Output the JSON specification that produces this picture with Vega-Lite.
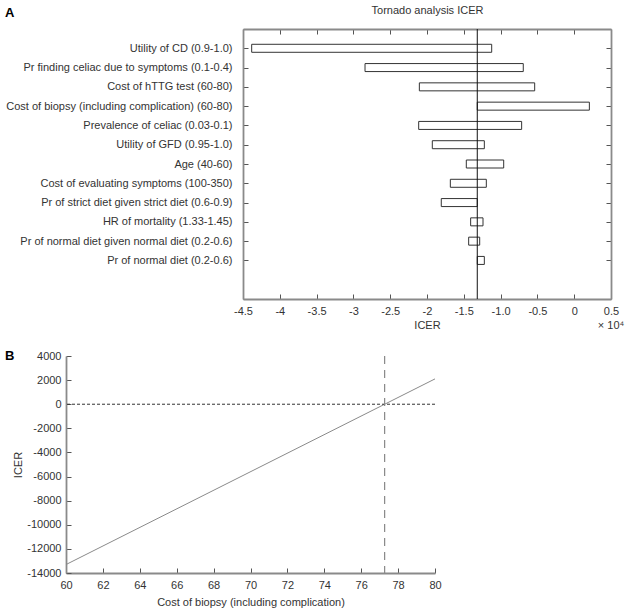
{
  "$schema": "https://vega.github.io/schema/vega-lite/v6.json",
  "padding": {"left": 5, "top": 4, "right": 5, "bottom": 5},
  "spacing": 19,
  "config": {
    "view": {"stroke": null},
    "font": "Liberation Sans",
    "axis": {
      "grid": false,
      "labelFont": "Liberation Sans",
      "labelFontSize": 11,
      "labelColor": "#333",
      "labelFlush": false,
      "labelOverlap": false,
      "titleFont": "Liberation Sans",
      "titleFontSize": 11,
      "titleFontWeight": "normal",
      "titleColor": "#333",
      "domainColor": "#8a8a8a",
      "domainWidth": 1.8,
      "tickColor": "#555",
      "tickWidth": 1,
      "tickSize": -5,
      "tickCount": 30
    }
  },
  "vconcat": [
    {
      "width": 545,
      "height": 270,
      "data": {"values": [
        {"param": "Utility of CD (0.9-1.0)", "low": -43820, "high": -11210},
        {"param": "Pr finding celiac due to symptoms (0.1-0.4)", "low": -28420, "high": -6920},
        {"param": "Cost of hTTG test (60-80)", "low": -21040, "high": -5370},
        {"param": "Cost of biopsy (including complication) (60-80)", "low": -13170, "high": 2060},
        {"param": "Prevalence of celiac (0.03-0.1)", "low": -21130, "high": -7140},
        {"param": "Utility of GFD (0.95-1.0)", "low": -19280, "high": -12210},
        {"param": "Age (40-60)", "low": -14660, "high": -9580},
        {"param": "Cost of evaluating symptoms (100-350)", "low": -16830, "high": -11940},
        {"param": "Pr of strict diet given strict diet (0.6-0.9)", "low": -18060, "high": -13170},
        {"param": "HR of mortality (1.33-1.45)", "low": -14070, "high": -12390},
        {"param": "Pr of normal diet given normal diet (0.2-0.6)", "low": -14340, "high": -12840},
        {"param": "Pr of normal diet (0.2-0.6)", "low": -13170, "high": -12210}
      ]},
      "layer": [
        {
          "mark": {"type": "bar", "fill": "white", "stroke": "#333", "strokeWidth": 1, "size": 8},
          "encoding": {
            "y": {
              "field": "param", "type": "nominal",
              "scale": {"type": "point", "padding": 1, "domain": [
                "Utility of CD (0.9-1.0)",
                "Pr finding celiac due to symptoms (0.1-0.4)",
                "Cost of hTTG test (60-80)",
                "Cost of biopsy (including complication) (60-80)",
                "Prevalence of celiac (0.03-0.1)",
                "Utility of GFD (0.95-1.0)",
                "Age (40-60)",
                "Cost of evaluating symptoms (100-350)",
                "Pr of strict diet given strict diet (0.6-0.9)",
                "HR of mortality (1.33-1.45)",
                "Pr of normal diet given normal diet (0.2-0.6)",
                "Pr of normal diet (0.2-0.6)",
                " "
              ]},
              "axis": {
                "orient": "left", "offset": -177, "title": null,
                "tickSize": -5, "labelPadding": 16, "labelLimit": 400,
                "values": [
                  "Utility of CD (0.9-1.0)",
                  "Pr finding celiac due to symptoms (0.1-0.4)",
                  "Cost of hTTG test (60-80)",
                  "Cost of biopsy (including complication) (60-80)",
                  "Prevalence of celiac (0.03-0.1)",
                  "Utility of GFD (0.95-1.0)",
                  "Age (40-60)",
                  "Cost of evaluating symptoms (100-350)",
                  "Pr of strict diet given strict diet (0.6-0.9)",
                  "HR of mortality (1.33-1.45)",
                  "Pr of normal diet given normal diet (0.2-0.6)",
                  "Pr of normal diet (0.2-0.6)"
                ]
              }
            },
            "x": {
              "field": "low", "type": "quantitative",
              "scale": {"domain": [-45000, 5000], "range": [177, 545], "nice": false, "zero": false},
              "axis": {
                "orient": "bottom", "title": "ICER", "titlePadding": 3, "labelPadding": 11, "tickSize": -5,
                "values": [-45000, -40000, -35000, -30000, -25000, -20000, -15000, -10000, -5000, 0, 5000],
                "labelExpr": "datum.value == -10000 ? '-1.0' : '' + datum.value / 10000"
              }
            },
            "x2": {"field": "high"}
          }
        },
        {
          "data": {"values": [{"base": -13170}]},
          "mark": {"type": "rule", "color": "#111", "strokeWidth": 1},
          "encoding": {
            "x": {"field": "base", "type": "quantitative", "axis": null}
          }
        },
        {
          "data": {"values": [{"label": "A"}]},
          "mark": {"type": "text", "align": "left", "baseline": "middle", "dx": -238, "dy": -35, "fontSize": 13, "fontWeight": "bold", "color": "#000"},
          "encoding": {
            "text": {"field": "label"},
            "x": {
              "datum": -45000, "type": "quantitative",
              "axis": {
                "orient": "top", "labels": false, "title": "Tornado analysis ICER", "titlePadding": 13,
                "domain": true, "tickSize": -5,
                "values": [-45000, -40000, -35000, -30000, -25000, -20000, -15000, -10000, -5000, 0, 5000]
              }
            },
            "y": {
              "datum": "Utility of CD (0.9-1.0)", "type": "nominal",
              "axis": {
                "orient": "right", "labels": false, "title": null, "domain": true, "tickSize": -5,
                "values": [
                  "Utility of CD (0.9-1.0)",
                  "Pr finding celiac due to symptoms (0.1-0.4)",
                  "Cost of hTTG test (60-80)",
                  "Cost of biopsy (including complication) (60-80)",
                  "Prevalence of celiac (0.03-0.1)",
                  "Utility of GFD (0.95-1.0)",
                  "Age (40-60)",
                  "Cost of evaluating symptoms (100-350)",
                  "Pr of strict diet given strict diet (0.6-0.9)",
                  "HR of mortality (1.33-1.45)",
                  "Pr of normal diet given normal diet (0.2-0.6)",
                  "Pr of normal diet (0.2-0.6)"
                ]
              }
            }
          }
        },
        {
          "data": {"values": [{"label": "× 10⁴"}]},
          "mark": {"type": "text", "align": "center", "baseline": "middle", "dy": 46, "fontSize": 11, "color": "#333"},
          "encoding": {
            "text": {"field": "label"},
            "x": {"datum": 5000, "type": "quantitative", "axis": null},
            "y": {"datum": " ", "type": "nominal", "axis": null}
          }
        }
      ],
      "resolve": {"axis": {"x": "independent", "y": "independent"}}
    },
    {
      "width": 369,
      "height": 217,
      "layer": [
        {
          "data": {"values": [{"cost": 60, "icer": -13300}, {"cost": 80, "icer": 2100}]},
          "mark": {"type": "line", "color": "#8a8a8a", "strokeWidth": 1},
          "encoding": {
            "x": {
              "field": "cost", "type": "quantitative",
              "scale": {"domain": [60, 80], "nice": false, "zero": false},
              "axis": {
                "title": "Cost of biopsy (including complication)", "titlePadding": 6, "labelPadding": 11, "tickSize": -5, "tickCount": 30,
                "values": [60, 62, 64, 66, 68, 70, 72, 74, 76, 78, 80],
                "labelExpr": "'' + datum.value"
              }
            },
            "y": {
              "field": "icer", "type": "quantitative",
              "scale": {"domain": [-14000, 4000], "nice": false, "zero": false},
              "axis": {
                "title": "ICER", "titlePadding": 3, "labelPadding": 10, "tickSize": -5, "tickCount": 30,
                "values": [-14000, -12000, -10000, -8000, -6000, -4000, -2000, 0, 2000, 4000],
                "labelExpr": "'' + datum.value"
              }
            }
          }
        },
        {
          "data": {"values": [{"ref": 0}]},
          "mark": {"type": "rule", "color": "#333", "strokeWidth": 1, "strokeDash": [3, 2]},
          "encoding": {"y": {"field": "ref", "type": "quantitative"}}
        },
        {
          "data": {"values": [{"breakeven": 77.27}]},
          "mark": {"type": "rule", "color": "#888", "strokeWidth": 1.2, "strokeDash": [8, 6]},
          "encoding": {"x": {"field": "breakeven", "type": "quantitative"}}
        },
        {
          "data": {"values": [{"label": "B"}]},
          "mark": {"type": "text", "align": "left", "baseline": "middle", "dx": -61, "fontSize": 13, "fontWeight": "bold", "color": "#000"},
          "encoding": {
            "text": {"field": "label"},
            "x": {"datum": 60, "type": "quantitative"},
            "y": {"datum": 4000, "type": "quantitative"}
          }
        }
      ]
    }
  ]
}
